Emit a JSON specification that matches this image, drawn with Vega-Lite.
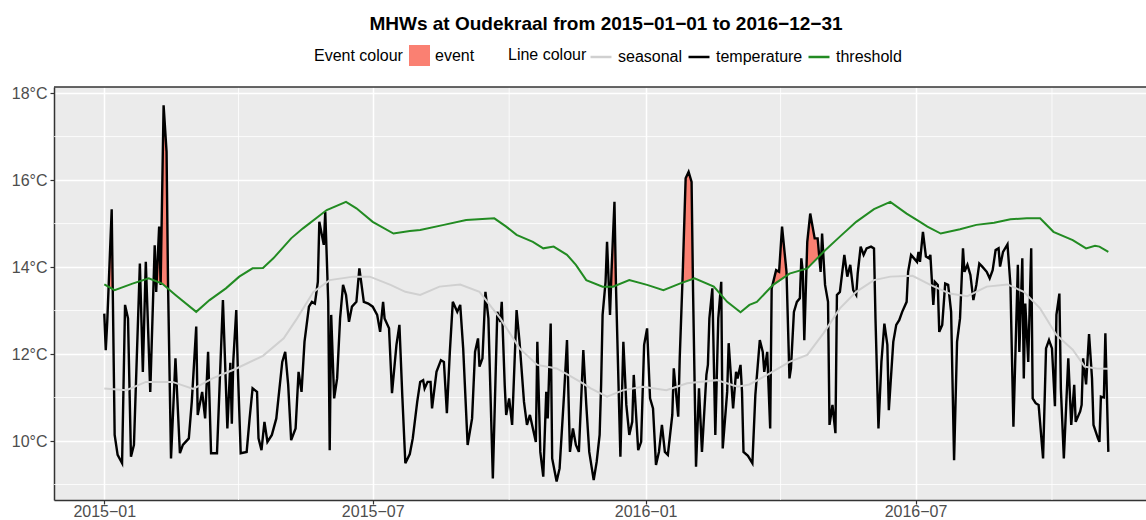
{
"$schema": "https://vega.github.io/schema/vega-lite/v6.json",
"width": 1092,
"height": 413,
"autosize": {"type": "none"},
"padding": {"left": 54, "top": 87, "right": 0, "bottom": 20},
"title": {"text": "MHWs at Oudekraal from 2015−01−01 to 2016−12−31", "fontSize": 19, "fontWeight": "bold", "font": "Liberation Sans", "color": "#000000", "anchor": "middle", "dx": 6, "baseline": "alphabetic", "offset": -4},
"config": {
  "font": "Liberation Sans",
  "view": {"stroke": null, "fill": "#EBEBEB"},
  "axis": {"gridColor": "#FFFFFF", "gridWidth": 1.5, "gridOpacity": 1, "domainColor": "#333333", "domainWidth": 1.5, "tickColor": "#333333", "tickWidth": 1.2, "tickSize": 4, "labelFontSize": 16, "labelColor": "#4D4D4D", "labelFont": "Liberation Sans", "title": null}
},
"datasets": {
  "vgrid": [{"d": "2015-04-01T12:00Z"}, {"d": "2015-10-01"}, {"d": "2016-04-01"}, {"d": "2016-10-01"}],
  "hgrid": [{"t": 9}, {"t": 11}, {"t": 13}, {"t": 15}, {"t": 17}],
  "flame": [
    {"d": "2015-01-03T22:30Z", "temp": 13.55, "thresh": 13.55, "ev": 1},
    {"d": "2015-01-06", "temp": 15.33, "thresh": 13.51, "ev": 1},
    {"d": "2015-01-06T17:00Z", "temp": 13.5, "thresh": 13.5, "ev": 1},
    {"d": "2015-02-03T07:30Z", "temp": 13.72, "thresh": 13.72, "ev": 2},
    {"d": "2015-02-04", "temp": 14.5, "thresh": 13.72, "ev": 2},
    {"d": "2015-02-04T17:45Z", "temp": 13.71, "thresh": 13.71, "ev": 2},
    {"d": "2015-02-05T08:24Z", "temp": 13.69, "thresh": 13.69, "ev": 2},
    {"d": "2015-02-07", "temp": 14.93, "thresh": 13.67, "ev": 2},
    {"d": "2015-02-08", "temp": 13.63, "thresh": 13.63, "ev": 2},
    {"d": "2015-02-10", "temp": 17.72, "thresh": 13.6, "ev": 2},
    {"d": "2015-02-12", "temp": 16.65, "thresh": 13.55, "ev": 2},
    {"d": "2015-02-13", "temp": 13.59, "thresh": 13.54, "ev": 2},
    {"d": "2015-02-13T01:00Z", "temp": 13.53, "thresh": 13.53, "ev": 2},
    {"d": "2015-12-08T15:50Z", "temp": 13.55, "thresh": 13.55, "ev": 3},
    {"d": "2015-12-11", "temp": 15.5, "thresh": 13.56, "ev": 3},
    {"d": "2015-12-12", "temp": 13.59, "thresh": 13.56, "ev": 3},
    {"d": "2015-12-12T00:30Z", "temp": 13.56, "thresh": 13.56, "ev": 3},
    {"d": "2016-01-25T19:26Z", "temp": 13.64, "thresh": 13.64, "ev": 4},
    {"d": "2016-01-26", "temp": 13.82, "thresh": 13.64, "ev": 4},
    {"d": "2016-01-28", "temp": 16.04, "thresh": 13.66, "ev": 4},
    {"d": "2016-01-30", "temp": 16.19, "thresh": 13.69, "ev": 4},
    {"d": "2016-02-01", "temp": 15.96, "thresh": 13.71, "ev": 4},
    {"d": "2016-02-01T21:22Z", "temp": 13.72, "thresh": 13.72, "ev": 4},
    {"d": "2016-03-26T12:30Z", "temp": 13.58, "thresh": 13.58, "ev": 5},
    {"d": "2016-03-29", "temp": 13.93, "thresh": 13.64, "ev": 5},
    {"d": "2016-03-31", "temp": 13.89, "thresh": 13.68, "ev": 5},
    {"d": "2016-04-02", "temp": 14.93, "thresh": 13.73, "ev": 5},
    {"d": "2016-04-05", "temp": 13.89, "thresh": 13.8, "ev": 5},
    {"d": "2016-04-05T01:40Z", "temp": 13.8, "thresh": 13.8, "ev": 5},
    {"d": "2016-04-18T10:48Z", "temp": 13.96, "thresh": 13.96, "ev": 6},
    {"d": "2016-04-19", "temp": 14.58, "thresh": 13.97, "ev": 6},
    {"d": "2016-04-21", "temp": 15.23, "thresh": 14.04, "ev": 6},
    {"d": "2016-04-24", "temp": 14.66, "thresh": 14.14, "ev": 6},
    {"d": "2016-04-26", "temp": 14.66, "thresh": 14.21, "ev": 6},
    {"d": "2016-04-27T01:40Z", "temp": 14.25, "thresh": 14.25, "ev": 6}
  ],
  "thr": [
    {"d": "2015-01-01", "t": 13.6}, {"d": "2015-01-08", "t": 13.47}, {"d": "2015-01-20", "t": 13.62}, {"d": "2015-01-31", "t": 13.74},
    {"d": "2015-02-09", "t": 13.62}, {"d": "2015-02-18", "t": 13.36}, {"d": "2015-03-04", "t": 12.97}, {"d": "2015-03-13", "t": 13.24},
    {"d": "2015-03-24", "t": 13.51}, {"d": "2015-04-02", "t": 13.78}, {"d": "2015-04-11", "t": 13.97}, {"d": "2015-04-18", "t": 13.98},
    {"d": "2015-04-25", "t": 14.2}, {"d": "2015-05-07", "t": 14.66}, {"d": "2015-05-15", "t": 14.89}, {"d": "2015-05-31", "t": 15.31},
    {"d": "2015-06-13", "t": 15.5}, {"d": "2015-06-20", "t": 15.35}, {"d": "2015-07-01", "t": 15.04}, {"d": "2015-07-15", "t": 14.77},
    {"d": "2015-07-26", "t": 14.83}, {"d": "2015-08-02", "t": 14.85}, {"d": "2015-08-18", "t": 14.97}, {"d": "2015-09-02", "t": 15.08},
    {"d": "2015-09-21", "t": 15.12}, {"d": "2015-09-29", "t": 14.93}, {"d": "2015-10-06", "t": 14.74}, {"d": "2015-10-17", "t": 14.58},
    {"d": "2015-10-24", "t": 14.43}, {"d": "2015-10-31", "t": 14.47}, {"d": "2015-11-09", "t": 14.28}, {"d": "2015-11-15", "t": 14.05},
    {"d": "2015-11-22", "t": 13.7}, {"d": "2015-12-03", "t": 13.55}, {"d": "2015-12-10", "t": 13.55}, {"d": "2015-12-21", "t": 13.7},
    {"d": "2016-01-02", "t": 13.59}, {"d": "2016-01-13", "t": 13.47}, {"d": "2016-01-24", "t": 13.62}, {"d": "2016-02-03", "t": 13.74},
    {"d": "2016-02-16", "t": 13.55}, {"d": "2016-02-25", "t": 13.2}, {"d": "2016-03-05", "t": 12.96}, {"d": "2016-03-11", "t": 13.13},
    {"d": "2016-03-16", "t": 13.2}, {"d": "2016-03-27", "t": 13.59}, {"d": "2016-04-07", "t": 13.85}, {"d": "2016-04-19", "t": 13.97},
    {"d": "2016-04-30", "t": 14.35}, {"d": "2016-05-11", "t": 14.7}, {"d": "2016-05-22", "t": 15.04}, {"d": "2016-06-03", "t": 15.33},
    {"d": "2016-06-14", "t": 15.5}, {"d": "2016-06-25", "t": 15.23}, {"d": "2016-07-04", "t": 15.04}, {"d": "2016-07-09", "t": 14.93},
    {"d": "2016-07-18", "t": 14.77}, {"d": "2016-07-31", "t": 14.87}, {"d": "2016-08-11", "t": 14.97}, {"d": "2016-08-23", "t": 15.02},
    {"d": "2016-09-03", "t": 15.1}, {"d": "2016-09-14", "t": 15.12}, {"d": "2016-09-23", "t": 15.12}, {"d": "2016-10-02", "t": 14.81},
    {"d": "2016-10-15", "t": 14.62}, {"d": "2016-10-24", "t": 14.43}, {"d": "2016-10-30", "t": 14.49}, {"d": "2016-11-02", "t": 14.47},
    {"d": "2016-11-08", "t": 14.35}
  ],
  "seas": [
    {"d": "2015-01-01", "t": 11.21}, {"d": "2015-01-16", "t": 11.17}, {"d": "2015-01-29", "t": 11.36}, {"d": "2015-02-16", "t": 11.36},
    {"d": "2015-03-02", "t": 11.2}, {"d": "2015-03-15", "t": 11.44}, {"d": "2015-03-30", "t": 11.65}, {"d": "2015-04-18", "t": 11.96},
    {"d": "2015-05-02", "t": 12.36}, {"d": "2015-05-11", "t": 12.82}, {"d": "2015-05-22", "t": 13.43}, {"d": "2015-06-02", "t": 13.7},
    {"d": "2015-06-18", "t": 13.78}, {"d": "2015-06-29", "t": 13.78}, {"d": "2015-07-13", "t": 13.59}, {"d": "2015-07-23", "t": 13.43},
    {"d": "2015-08-02", "t": 13.36}, {"d": "2015-08-15", "t": 13.55}, {"d": "2015-08-29", "t": 13.6}, {"d": "2015-09-11", "t": 13.43},
    {"d": "2015-09-25", "t": 12.82}, {"d": "2015-10-08", "t": 12.13}, {"d": "2015-10-20", "t": 11.75}, {"d": "2015-11-02", "t": 11.67},
    {"d": "2015-11-11", "t": 11.5}, {"d": "2015-11-18", "t": 11.36}, {"d": "2015-11-25", "t": 11.21}, {"d": "2015-12-06", "t": 11.02},
    {"d": "2015-12-17", "t": 11.17}, {"d": "2015-12-30", "t": 11.25}, {"d": "2016-01-15", "t": 11.17}, {"d": "2016-01-29", "t": 11.33},
    {"d": "2016-02-18", "t": 11.4}, {"d": "2016-03-03", "t": 11.25}, {"d": "2016-03-11", "t": 11.3}, {"d": "2016-03-23", "t": 11.52},
    {"d": "2016-04-07", "t": 11.82}, {"d": "2016-04-19", "t": 11.98}, {"d": "2016-04-30", "t": 12.48}, {"d": "2016-05-11", "t": 13.05},
    {"d": "2016-05-22", "t": 13.43}, {"d": "2016-06-03", "t": 13.7}, {"d": "2016-06-14", "t": 13.78}, {"d": "2016-06-29", "t": 13.8},
    {"d": "2016-07-11", "t": 13.59}, {"d": "2016-07-24", "t": 13.39}, {"d": "2016-08-05", "t": 13.33}, {"d": "2016-08-18", "t": 13.55},
    {"d": "2016-09-01", "t": 13.6}, {"d": "2016-09-12", "t": 13.43}, {"d": "2016-09-23", "t": 13.05}, {"d": "2016-10-04", "t": 12.44},
    {"d": "2016-10-15", "t": 12.1}, {"d": "2016-10-23", "t": 11.71}, {"d": "2016-10-31", "t": 11.67}, {"d": "2016-11-08", "t": 11.66}
  ],
  "temp": [
    {"d": "2015-01-01", "t": 12.93}, {"d": "2015-01-02", "t": 12.09}, {"d": "2015-01-03", "t": 12.74}, {"d": "2015-01-06", "t": 15.33},
    {"d": "2015-01-08", "t": 10.14}, {"d": "2015-01-10", "t": 9.68}, {"d": "2015-01-13", "t": 9.49}, {"d": "2015-01-15", "t": 13.13},
    {"d": "2015-01-17", "t": 12.82}, {"d": "2015-01-19", "t": 9.64}, {"d": "2015-01-21", "t": 9.91}, {"d": "2015-01-25", "t": 14.08},
    {"d": "2015-01-27", "t": 11.59}, {"d": "2015-01-29", "t": 14.12}, {"d": "2015-02-01", "t": 11.13}, {"d": "2015-02-04", "t": 14.5},
    {"d": "2015-02-05", "t": 13.43}, {"d": "2015-02-07", "t": 14.93}, {"d": "2015-02-08", "t": 13.59}, {"d": "2015-02-10", "t": 17.72},
    {"d": "2015-02-12", "t": 16.65}, {"d": "2015-02-13", "t": 13.59}, {"d": "2015-02-15", "t": 9.6}, {"d": "2015-02-18", "t": 11.9},
    {"d": "2015-02-21", "t": 9.72}, {"d": "2015-02-23", "t": 9.91}, {"d": "2015-02-27", "t": 10.06}, {"d": "2015-03-01", "t": 10.9},
    {"d": "2015-03-04", "t": 12.63}, {"d": "2015-03-05", "t": 10.6}, {"d": "2015-03-08", "t": 11.13}, {"d": "2015-03-10", "t": 10.52},
    {"d": "2015-03-12", "t": 12.05}, {"d": "2015-03-14", "t": 9.72}, {"d": "2015-03-18", "t": 9.72}, {"d": "2015-03-22", "t": 13.24},
    {"d": "2015-03-25", "t": 10.29}, {"d": "2015-03-27", "t": 11.8}, {"d": "2015-03-28", "t": 10.4}, {"d": "2015-03-29", "t": 11.85},
    {"d": "2015-03-31", "t": 13.01}, {"d": "2015-04-01", "t": 11.7}, {"d": "2015-04-03", "t": 9.72}, {"d": "2015-04-07", "t": 9.75},
    {"d": "2015-04-09", "t": 10.52}, {"d": "2015-04-11", "t": 11.21}, {"d": "2015-04-14", "t": 11.13}, {"d": "2015-04-15", "t": 10.06},
    {"d": "2015-04-17", "t": 9.79}, {"d": "2015-04-19", "t": 10.44}, {"d": "2015-04-21", "t": 9.98}, {"d": "2015-04-24", "t": 10.14},
    {"d": "2015-04-27", "t": 10.52}, {"d": "2015-05-01", "t": 11.82}, {"d": "2015-05-03", "t": 12.05}, {"d": "2015-05-05", "t": 11.29},
    {"d": "2015-05-07", "t": 10.02}, {"d": "2015-05-10", "t": 10.29}, {"d": "2015-05-12", "t": 11.59}, {"d": "2015-05-14", "t": 11.13},
    {"d": "2015-05-16", "t": 12.28}, {"d": "2015-05-19", "t": 13.09}, {"d": "2015-05-21", "t": 13.2}, {"d": "2015-05-23", "t": 13.16},
    {"d": "2015-05-25", "t": 13.66}, {"d": "2015-05-26", "t": 15.04}, {"d": "2015-05-29", "t": 14.51}, {"d": "2015-05-30", "t": 15.27},
    {"d": "2015-06-01", "t": 13.2}, {"d": "2015-06-02", "t": 9.79}, {"d": "2015-06-03", "t": 12.9}, {"d": "2015-06-05", "t": 10.98},
    {"d": "2015-06-07", "t": 11.44}, {"d": "2015-06-09", "t": 12.82}, {"d": "2015-06-11", "t": 13.59}, {"d": "2015-06-13", "t": 13.36},
    {"d": "2015-06-15", "t": 12.74}, {"d": "2015-06-17", "t": 13.09}, {"d": "2015-06-20", "t": 13.2}, {"d": "2015-06-22", "t": 13.97},
    {"d": "2015-06-25", "t": 13.2}, {"d": "2015-06-28", "t": 13.16}, {"d": "2015-07-01", "t": 13.09}, {"d": "2015-07-04", "t": 12.9},
    {"d": "2015-07-06", "t": 12.51}, {"d": "2015-07-08", "t": 13.2}, {"d": "2015-07-09", "t": 12.82}, {"d": "2015-07-12", "t": 12.59},
    {"d": "2015-07-14", "t": 11.1}, {"d": "2015-07-17", "t": 12.21}, {"d": "2015-07-19", "t": 12.67}, {"d": "2015-07-21", "t": 11.0},
    {"d": "2015-07-23", "t": 9.49}, {"d": "2015-07-26", "t": 9.7}, {"d": "2015-07-28", "t": 10.06}, {"d": "2015-07-31", "t": 10.9},
    {"d": "2015-08-02", "t": 11.36}, {"d": "2015-08-04", "t": 11.4}, {"d": "2015-08-05", "t": 11.21}, {"d": "2015-08-07", "t": 11.36},
    {"d": "2015-08-09", "t": 11.36}, {"d": "2015-08-10", "t": 10.75}, {"d": "2015-08-13", "t": 11.59}, {"d": "2015-08-16", "t": 11.86},
    {"d": "2015-08-18", "t": 11.82}, {"d": "2015-08-20", "t": 10.64}, {"d": "2015-08-22", "t": 12.05}, {"d": "2015-08-24", "t": 13.2},
    {"d": "2015-08-27", "t": 12.97}, {"d": "2015-08-29", "t": 13.13}, {"d": "2015-08-31", "t": 12.13}, {"d": "2015-09-03", "t": 9.91},
    {"d": "2015-09-06", "t": 10.52}, {"d": "2015-09-08", "t": 12.05}, {"d": "2015-09-10", "t": 12.36}, {"d": "2015-09-11", "t": 11.71},
    {"d": "2015-09-13", "t": 11.9}, {"d": "2015-09-15", "t": 13.43}, {"d": "2015-09-17", "t": 12.82}, {"d": "2015-09-20", "t": 9.14},
    {"d": "2015-09-23", "t": 12.97}, {"d": "2015-09-25", "t": 12.74}, {"d": "2015-09-26", "t": 13.2}, {"d": "2015-09-28", "t": 11.29},
    {"d": "2015-09-29", "t": 10.6}, {"d": "2015-10-01", "t": 10.98}, {"d": "2015-10-03", "t": 10.37}, {"d": "2015-10-06", "t": 13.01},
    {"d": "2015-10-08", "t": 12.28}, {"d": "2015-10-11", "t": 10.9}, {"d": "2015-10-13", "t": 10.37}, {"d": "2015-10-15", "t": 10.6},
    {"d": "2015-10-17", "t": 10.29}, {"d": "2015-10-19", "t": 9.98}, {"d": "2015-10-20", "t": 12.28}, {"d": "2015-10-22", "t": 9.75},
    {"d": "2015-10-24", "t": 9.18}, {"d": "2015-10-26", "t": 11.13}, {"d": "2015-10-27", "t": 10.52}, {"d": "2015-10-29", "t": 12.7},
    {"d": "2015-10-30", "t": 9.6}, {"d": "2015-11-02", "t": 9.07}, {"d": "2015-11-04", "t": 9.37}, {"d": "2015-11-07", "t": 11.06},
    {"d": "2015-11-09", "t": 12.32}, {"d": "2015-11-11", "t": 9.75}, {"d": "2015-11-13", "t": 10.29}, {"d": "2015-11-15", "t": 9.91},
    {"d": "2015-11-17", "t": 9.75}, {"d": "2015-11-20", "t": 12.09}, {"d": "2015-11-22", "t": 10.83}, {"d": "2015-11-24", "t": 9.75},
    {"d": "2015-11-27", "t": 9.1}, {"d": "2015-11-29", "t": 9.52}, {"d": "2015-12-01", "t": 10.14}, {"d": "2015-12-02", "t": 11.29},
    {"d": "2015-12-03", "t": 12.9}, {"d": "2015-12-05", "t": 13.66}, {"d": "2015-12-06", "t": 14.58}, {"d": "2015-12-08", "t": 12.9},
    {"d": "2015-12-09", "t": 13.89}, {"d": "2015-12-11", "t": 15.5}, {"d": "2015-12-12", "t": 13.59}, {"d": "2015-12-15", "t": 9.64},
    {"d": "2015-12-17", "t": 12.28}, {"d": "2015-12-19", "t": 10.83}, {"d": "2015-12-21", "t": 10.14}, {"d": "2015-12-23", "t": 10.44},
    {"d": "2015-12-24", "t": 11.52}, {"d": "2015-12-27", "t": 9.79}, {"d": "2015-12-29", "t": 9.98}, {"d": "2015-12-31", "t": 12.21},
    {"d": "2016-01-02", "t": 12.59}, {"d": "2016-01-04", "t": 10.98}, {"d": "2016-01-06", "t": 10.75}, {"d": "2016-01-08", "t": 9.45},
    {"d": "2016-01-10", "t": 9.75}, {"d": "2016-01-12", "t": 10.37}, {"d": "2016-01-14", "t": 9.75}, {"d": "2016-01-16", "t": 9.68},
    {"d": "2016-01-19", "t": 10.6}, {"d": "2016-01-20", "t": 11.67}, {"d": "2016-01-23", "t": 10.56}, {"d": "2016-01-24", "t": 11.9},
    {"d": "2016-01-26", "t": 13.82}, {"d": "2016-01-28", "t": 16.04}, {"d": "2016-01-30", "t": 16.19}, {"d": "2016-02-01", "t": 15.96},
    {"d": "2016-02-02", "t": 13.43}, {"d": "2016-02-04", "t": 9.41}, {"d": "2016-02-06", "t": 11.21}, {"d": "2016-02-08", "t": 9.75},
    {"d": "2016-02-11", "t": 11.52}, {"d": "2016-02-12", "t": 11.75}, {"d": "2016-02-13", "t": 12.82}, {"d": "2016-02-15", "t": 13.51},
    {"d": "2016-02-17", "t": 10.14}, {"d": "2016-02-19", "t": 12.82}, {"d": "2016-02-21", "t": 13.66}, {"d": "2016-02-22", "t": 9.83},
    {"d": "2016-02-25", "t": 11.13}, {"d": "2016-02-26", "t": 12.25}, {"d": "2016-02-29", "t": 10.75}, {"d": "2016-03-02", "t": 11.59},
    {"d": "2016-03-03", "t": 11.44}, {"d": "2016-03-05", "t": 11.75}, {"d": "2016-03-06", "t": 11.13}, {"d": "2016-03-07", "t": 9.75},
    {"d": "2016-03-10", "t": 9.66}, {"d": "2016-03-13", "t": 9.49}, {"d": "2016-03-15", "t": 11.06}, {"d": "2016-03-18", "t": 12.32},
    {"d": "2016-03-20", "t": 12.05}, {"d": "2016-03-21", "t": 11.59}, {"d": "2016-03-23", "t": 12.05}, {"d": "2016-03-25", "t": 10.29},
    {"d": "2016-03-26", "t": 13.51}, {"d": "2016-03-29", "t": 13.93}, {"d": "2016-03-31", "t": 13.89}, {"d": "2016-04-02", "t": 14.93},
    {"d": "2016-04-05", "t": 13.89}, {"d": "2016-04-07", "t": 11.44}, {"d": "2016-04-08", "t": 11.67}, {"d": "2016-04-10", "t": 12.97},
    {"d": "2016-04-12", "t": 13.2}, {"d": "2016-04-14", "t": 13.28}, {"d": "2016-04-15", "t": 14.2}, {"d": "2016-04-16", "t": 13.89},
    {"d": "2016-04-17", "t": 12.32}, {"d": "2016-04-19", "t": 14.58}, {"d": "2016-04-21", "t": 15.23}, {"d": "2016-04-24", "t": 14.66},
    {"d": "2016-04-26", "t": 14.66}, {"d": "2016-04-28", "t": 13.89}, {"d": "2016-04-29", "t": 14.77}, {"d": "2016-05-01", "t": 13.59},
    {"d": "2016-05-03", "t": 13.2}, {"d": "2016-05-04", "t": 10.37}, {"d": "2016-05-06", "t": 10.83}, {"d": "2016-05-08", "t": 10.18},
    {"d": "2016-05-09", "t": 13.36}, {"d": "2016-05-11", "t": 13.43}, {"d": "2016-05-14", "t": 14.28}, {"d": "2016-05-16", "t": 13.78},
    {"d": "2016-05-18", "t": 14.05}, {"d": "2016-05-20", "t": 13.47}, {"d": "2016-05-22", "t": 13.36}, {"d": "2016-05-23", "t": 13.85},
    {"d": "2016-05-25", "t": 14.47}, {"d": "2016-05-27", "t": 14.28}, {"d": "2016-05-29", "t": 14.43}, {"d": "2016-06-01", "t": 14.47},
    {"d": "2016-06-03", "t": 14.43}, {"d": "2016-06-04", "t": 12.82}, {"d": "2016-06-06", "t": 10.29}, {"d": "2016-06-08", "t": 11.82},
    {"d": "2016-06-10", "t": 12.7}, {"d": "2016-06-12", "t": 12.21}, {"d": "2016-06-13", "t": 10.71}, {"d": "2016-06-16", "t": 12.28},
    {"d": "2016-06-18", "t": 12.67}, {"d": "2016-06-20", "t": 12.78}, {"d": "2016-06-22", "t": 12.97}, {"d": "2016-06-25", "t": 13.2},
    {"d": "2016-06-26", "t": 13.89}, {"d": "2016-06-28", "t": 14.28}, {"d": "2016-06-30", "t": 14.2}, {"d": "2016-07-02", "t": 14.12},
    {"d": "2016-07-03", "t": 14.35}, {"d": "2016-07-04", "t": 14.12}, {"d": "2016-07-06", "t": 14.81}, {"d": "2016-07-08", "t": 14.24},
    {"d": "2016-07-10", "t": 14.2}, {"d": "2016-07-11", "t": 14.28}, {"d": "2016-07-13", "t": 13.13}, {"d": "2016-07-14", "t": 13.66},
    {"d": "2016-07-16", "t": 13.59}, {"d": "2016-07-17", "t": 12.51}, {"d": "2016-07-19", "t": 12.67}, {"d": "2016-07-21", "t": 13.62},
    {"d": "2016-07-23", "t": 13.59}, {"d": "2016-07-25", "t": 12.97}, {"d": "2016-07-27", "t": 9.56}, {"d": "2016-07-29", "t": 12.28},
    {"d": "2016-07-31", "t": 12.82}, {"d": "2016-08-02", "t": 14.43}, {"d": "2016-08-03", "t": 13.89}, {"d": "2016-08-05", "t": 14.05},
    {"d": "2016-08-07", "t": 13.82}, {"d": "2016-08-09", "t": 13.24}, {"d": "2016-08-11", "t": 13.59}, {"d": "2016-08-13", "t": 14.08},
    {"d": "2016-08-15", "t": 14.01}, {"d": "2016-08-18", "t": 13.89}, {"d": "2016-08-20", "t": 13.74}, {"d": "2016-08-22", "t": 13.93},
    {"d": "2016-08-24", "t": 14.39}, {"d": "2016-08-26", "t": 14.43}, {"d": "2016-08-27", "t": 14.01}, {"d": "2016-08-29", "t": 14.35},
    {"d": "2016-09-01", "t": 14.52}, {"d": "2016-09-03", "t": 13.59}, {"d": "2016-09-05", "t": 10.33}, {"d": "2016-09-08", "t": 14.05},
    {"d": "2016-09-09", "t": 12.05}, {"d": "2016-09-11", "t": 14.2}, {"d": "2016-09-12", "t": 11.44}, {"d": "2016-09-13", "t": 13.16},
    {"d": "2016-09-15", "t": 11.82}, {"d": "2016-09-17", "t": 14.43}, {"d": "2016-09-18", "t": 10.98}, {"d": "2016-09-20", "t": 10.87},
    {"d": "2016-09-22", "t": 10.83}, {"d": "2016-09-25", "t": 9.6}, {"d": "2016-09-27", "t": 12.13}, {"d": "2016-09-29", "t": 12.32},
    {"d": "2016-10-01", "t": 12.13}, {"d": "2016-10-03", "t": 10.8}, {"d": "2016-10-04", "t": 12.9}, {"d": "2016-10-06", "t": 13.39},
    {"d": "2016-10-07", "t": 11.2}, {"d": "2016-10-09", "t": 9.6}, {"d": "2016-10-12", "t": 11.9}, {"d": "2016-10-14", "t": 10.37},
    {"d": "2016-10-16", "t": 11.29}, {"d": "2016-10-17", "t": 10.44}, {"d": "2016-10-20", "t": 10.68}, {"d": "2016-10-21", "t": 10.83},
    {"d": "2016-10-22", "t": 11.9}, {"d": "2016-10-24", "t": 11.3}, {"d": "2016-10-26", "t": 12.46}, {"d": "2016-10-28", "t": 11.44},
    {"d": "2016-10-29", "t": 10.37}, {"d": "2016-11-01", "t": 10.06}, {"d": "2016-11-02", "t": 9.98}, {"d": "2016-11-03", "t": 11.02},
    {"d": "2016-11-05", "t": 11.0}, {"d": "2016-11-06", "t": 12.48}, {"d": "2016-11-08", "t": 9.75}
  ]
},
"layer": [
  {
    "data": {"name": "vgrid"},
    "mark": {"type": "rule", "color": "#FFFFFF", "strokeWidth": 0.8},
    "encoding": {
      "x": {"field": "d", "type": "temporal",
        "scale": {"type": "utc", "domain": [{"year": 2014, "month": 11, "date": 28, "hours": 2, "minutes": 24, "utc": true}, {"year": 2016, "month": 12, "date": 3, "hours": 9, "minutes": 36, "utc": true}]},
        "axis": {"values": [{"year": 2015, "month": 1, "date": 1, "utc": true}, {"year": 2015, "month": 7, "date": 1, "utc": true}, {"year": 2016, "month": 1, "date": 1, "utc": true}, {"year": 2016, "month": 7, "date": 1, "utc": true}], "labelExpr": "utcFormat(datum.value, '%Y−%m')", "labelBaseline": "alphabetic", "labelPadding": 12, "labelFlush": false, "labelOverlap": false}
      }
    }
  },
  {
    "data": {"name": "hgrid"},
    "mark": {"type": "rule", "color": "#FFFFFF", "strokeWidth": 0.8},
    "encoding": {
      "y": {"field": "t", "type": "quantitative",
        "scale": {"domain": [8.644, 18.14], "nice": false, "zero": false},
        "axis": {"values": [10, 12, 14, 16, 18], "labelExpr": "datum.value + '°C'", "labelPadding": 3}
      }
    }
  },
  {
    "data": {"name": "flame"},
    "mark": {"type": "area", "opacity": 1},
    "encoding": {
      "x": {"field": "d", "type": "temporal"},
      "y": {"field": "temp", "type": "quantitative"},
      "y2": {"field": "thresh"},
      "detail": {"field": "ev", "type": "nominal"},
      "fill": {"datum": "event", "type": "nominal",
        "scale": {"domain": ["event"], "range": ["#FA8072"]},
        "legend": {"title": "Event colour", "orient": "none", "legendX": 260, "legendY": -42, "direction": "horizontal", "titleOrient": "left", "titleAnchor": "middle", "titleBaseline": "middle", "symbolType": "square", "symbolSize": 441, "symbolStrokeWidth": 0, "symbolOpacity": 1, "labelFontSize": 16, "labelColor": "#000000", "titleFontSize": 16, "titleFontWeight": "normal", "titleColor": "#000000", "titlePadding": 6, "labelOffset": 5}
      }
    }
  },
  {
    "data": {"name": "temp"},
    "mark": {"type": "line", "strokeWidth": 2.4},
    "encoding": {
      "x": {"field": "d", "type": "temporal"},
      "y": {"field": "t", "type": "quantitative"},
      "stroke": {"datum": "temperature", "type": "nominal",
        "scale": {"domain": ["seasonal", "temperature", "threshold"], "range": ["#D0D0D0", "#000000", "#228B22"]},
        "legend": {"title": "Line colour", "orient": "none", "legendX": 454, "legendY": -42, "direction": "horizontal", "titleOrient": "left", "titleAnchor": "middle", "titleBaseline": "middle", "symbolType": "stroke", "symbolSize": 441, "symbolStrokeWidth": 2.5, "labelFontSize": 16, "labelColor": "#000000", "titleFontSize": 16, "titleFontWeight": "normal", "titleColor": "#000000", "titlePadding": 2, "labelOffset": 5, "columnPadding": 0}
      }
    }
  },
  {
    "data": {"name": "thr"},
    "mark": {"type": "line", "strokeWidth": 2},
    "encoding": {
      "x": {"field": "d", "type": "temporal"},
      "y": {"field": "t", "type": "quantitative"},
      "stroke": {"datum": "threshold", "type": "nominal"}
    }
  },
  {
    "data": {"name": "seas"},
    "mark": {"type": "line", "strokeWidth": 2},
    "encoding": {
      "x": {"field": "d", "type": "temporal"},
      "y": {"field": "t", "type": "quantitative"},
      "stroke": {"datum": "seasonal", "type": "nominal"}
    }
  },
  {
    "data": {"values": [{}]},
    "mark": {"type": "rule", "color": "#333333", "strokeWidth": 1.5},
    "encoding": {"y": {"datum": 18.14}}
  }
]
}
